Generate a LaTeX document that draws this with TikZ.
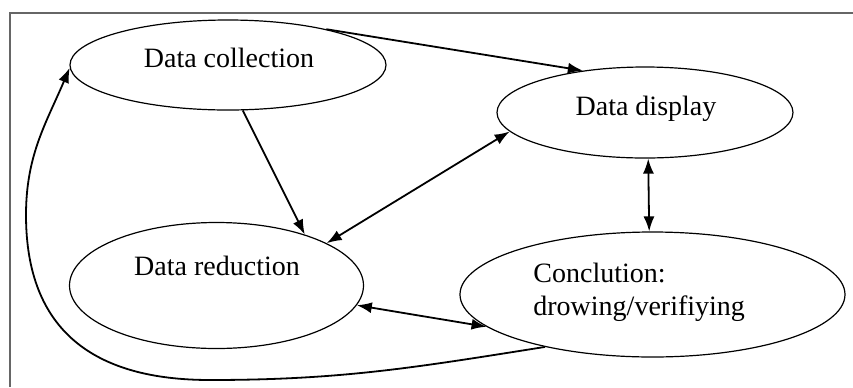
\documentclass[tikz,border=0pt]{standalone}
\usepackage{fontspec}
\setmainfont{Liberation Serif}
\usetikzlibrary{shapes.geometric,arrows.meta}

\begin{document}
\begin{tikzpicture}[x=0.5pt, y=0.5pt,
    stage/.style={ellipse, draw, line width=0.6pt, inner sep=0pt},
    caption/.style={font=\fontsize{14}{16.5}\selectfont, inner sep=0pt},
    link/.style={line width=0.9pt, >={Latex[length=7.5pt,width=5.5pt]}}]
    \useasboundingbox (0,0) rectangle (853,-387);
    \draw[line width=1.2pt, black!60] (10,-387) -- (10,-13) -- (853,-13);
    \node[stage, minimum width=158pt, minimum height=45pt] (d_col) at (228,-65) {};
    \node[stage, minimum width=148pt, minimum height=45.5pt] (d_dis) at (645,-112.5) {};
    \node[stage, minimum width=147pt, minimum height=63pt] (d_red) at (216.5,-285.5) {};
    \node[stage, minimum width=192.5pt, minimum height=62.5pt] (c_ver) at (652.5,-294.5) {};
    \node[caption, anchor=base] (t_col) at (229,-67) {Data collection};
    \node[caption, anchor=base] (t_dis) at (646,-115) {Data display};
    \node[caption, anchor=base] (t_red) at (217,-275) {Data reduction};
    \node[caption, anchor=north west, align=left] (t_ver) at (533,-263) {Conclution:\\drowing/verifiying};
    \path[link, ->]
    (d_col.20) edge (d_dis.146)
    (d_col.-72) edge (d_red.30);
    \path[link, <->]
    (d_red.21) edge (d_dis.188)
    (d_dis.-86) edge (c_ver.93)
    (d_red.-8) edge (c_ver.191);
    \coordinate (lp_b) at (210,-380);
    \coordinate (lp_l) at (26,-215);
    \draw[link, ->] (c_ver.206) to[out=189, in=0] (lp_b)
          to[out=180, in=-90, looseness=1.2] (lp_l)
          to[out=90, in=-113] (d_col.181);
\end{tikzpicture}
\end{document}
